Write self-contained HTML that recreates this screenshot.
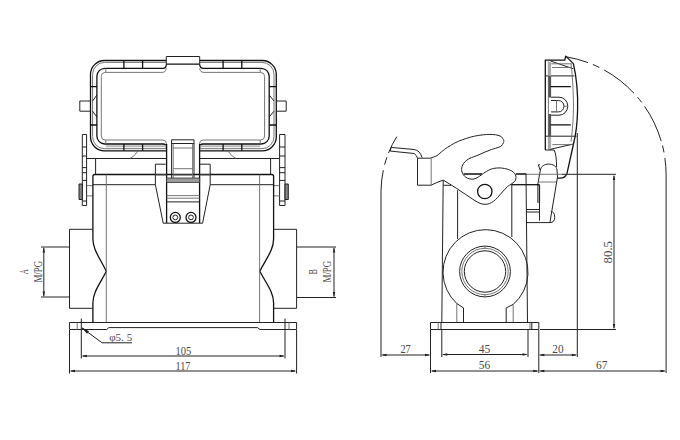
<!DOCTYPE html>
<html><head><meta charset="utf-8"><style>
html,body{margin:0;padding:0;background:#fff;}
body{width:680px;height:440px;overflow:hidden;}
svg{display:block;}
text{font-family:"Liberation Serif",serif;fill:#4a4a4a;}
.k{stroke:#111;stroke-width:1.3;}
.m{stroke:#222;stroke-width:1;}
.t{stroke:#666;stroke-width:0.9;}
.d{stroke:#222;stroke-width:1;}
</style></head><body>
<svg width="680" height="440" viewBox="0 0 680 440">
<g fill="none" stroke-linejoin="round" stroke-linecap="butt">
<!-- ============ LEFT (FRONT) VIEW ============ -->
<!-- lid rim L1 -->
<path class="k" d="M166.3,60.5 H104.5 A14,14 0 0 0 90.5,74.5 V136.8 A14,14 0 0 0 104.5,150.8 H166.5 M199.5,150.8 H262.3 A14,14 0 0 0 276.3,136.8 V74.5 A14,14 0 0 0 262.3,60.5 H199.7"/>
<!-- L2 -->
<path class="t" d="M166.3,62.4 H104.6 A12,12 0 0 0 92.6,74.4 V136.7 A12,12 0 0 0 104.6,148.7 H166.5 M199.5,148.7 H262 A12,12 0 0 0 274,136.7 V74.4 A12,12 0 0 0 262,62.4 H199.7"/>
<!-- L3 -->
<path class="k" stroke-width="2" d="M163,68.3 H104.9 A8,8 0 0 0 96.9,76.3 V136 A8,8 0 0 0 104.9,144 H163 Q166.5,144 166.5,148 M199.5,148 Q199.5,144 203,144 H261.2 A8,8 0 0 0 269.2,136 V76.3 A8,8 0 0 0 261.2,68.3 H203.5 Q199.7,68.3 199.7,64.2 M166.3,64.2 Q166.3,68.3 163,68.3"/>
<!-- L4 -->
<path class="t" d="M162,72.4 H105.3 A4,4 0 0 0 101.3,76.4 V136 A4,4 0 0 0 105.3,140 H163 Q166.5,140 166.5,144 M199.5,144 Q199.5,140 203,140 H260.6 A4,4 0 0 0 264.6,136 V76.4 A4,4 0 0 0 260.6,72.4 H204 Q200,72.4 199.7,68.3 M166.3,68.3 Q166,72.4 162,72.4"/>
<path class="t" d="M105.8,68.3 V72.4 M260.2,68.3 V72.4 M105.8,140 V144 M260.2,140 V144"/>
<!-- rim shading bottom -->
<path stroke="#bbb" stroke-width="2" d="M106,146.3 H166 M200,146.3 H260"/>
<!-- top tab -->
<path class="m" d="M166.3,64.1 V56.5 H199.7 V64.1"/>
<path class="k" stroke-width="1.8" d="M166.3,64.1 H199.7"/>
<!-- rim ticks -->
<g class="k" stroke-width="2.2">
<path d="M123.9,60.5 V68.3 M142.6,60.5 V68.3 M223.1,60.5 V68.3 M241.8,60.5 V68.3"/>
<path d="M123.9,144 V150.8 M142.6,144 V150.8 M223.1,144 V150.8 M241.8,144 V150.8"/>
<path d="M90.5,86.6 H96.9 M90.5,125 H96.9 M269.2,86.6 H276.3 M269.2,125 H276.3"/>
</g>
<!-- pins -->
<path class="m" d="M90.5,101 H79.8 V111.2 H90.5 M96.9,95 L92.6,101 M92.6,111.2 L96.9,117"/>
<path class="m" d="M276.3,101 H286.2 V111.2 H276.3 M269.2,95 L274,101 M274,111.2 L269.2,117"/>

<!-- below lid -->
<path class="m" d="M86.5,158.5 H166.5 M199.5,158.5 H279.5"/>
<path class="t" d="M130,158.5 Q135,156 138,151 M236,158.5 Q231,156 228,151"/>
<path class="m" d="M95.6,158.5 V174.5 M270.6,158.5 V174.5"/>

<!-- brackets -->
<path class="m" d="M82.3,205.5 V134.5 H86.6 V205.5 Z M279.6,205.5 V134.5 H285 V205.5 Z"/>
<path class="m" d="M82.3,147 H86.6 M82.3,156 H86.6 M82.3,167.6 H86.6 M82.3,172.7 H86.6 M82.3,180.4 H86.6 M82.3,201 H86.6"/>
<path class="m" d="M279.6,147 H285 M279.6,156 H285 M279.6,167.6 H285 M279.6,172.7 H285 M279.6,180.4 H285 M279.6,201 H285"/>
<rect class="m" x="79" y="184" width="3.3" height="15.5" fill="#888"/>
<rect class="m" x="285" y="184" width="3.3" height="15.5" fill="#888"/>
<path class="t" d="M86.6,185.6 H92.9 M86.6,195.9 H92.9 M273.6,185.6 H279.6 M273.6,195.9 H279.6"/>

<!-- body -->
<path class="k" d="M92.9,322.5 V303 C92.9,292 100,284 106.3,271.3 C100,258 92.9,250 92.9,239 V176.5 Q92.9,174.5 94.9,174.5 H271.6 Q273.6,174.5 273.6,176.5 V239 C273.6,250 266.5,258 259.8,271.3 C266.5,284 273.6,292 273.6,303 V322.5"/>
<path class="m" d="M92.9,184.7 H155.4 M210.2,184.7 H273.6"/>
<path class="t" stroke-width="1.2" d="M106.3,174.5 V322.5 M259.6,174.5 V322.5"/>
<!-- glands -->
<path class="m" d="M92.9,229.3 H69.5 V308.3 H92.9 M273.6,229.3 H296.6 V308.3 H273.6"/>
<!-- flange -->
<path class="m" d="M69.5,322.5 H296.6 V329.5 H260 L257.5,327.6 H108.8 L106.7,329.5 H69.5 Z"/>
<path class="t" d="M77.2,322.5 V329.5 M289,322.5 V329.5"/>

<!-- central hinge block -->
<path class="k" stroke-width="1.7" d="M166.6,144 V223 M199.6,144 V223"/>
<path class="m" d="M171.6,178 V139.8 H194 V178 M171.6,143.5 H194"/>
<path class="t" d="M173.2,143.5 V178 M192.6,143.5 V178 M173.2,148 H192.6 M173.2,168.7 H192.6 M173.2,175 H192.6"/>
<rect x="166.6" y="178" width="33" height="4.5" fill="#9a9a9a" stroke="#333" stroke-width="0.8"/>
<!-- latch -->
<path class="m" d="M165.6,164.2 H155.4 V184.7 L163.2,223.2 H202.6 L210.2,184.7 V164.2 H200"/>
<path class="t" d="M155.4,175 H166.6 M199.6,175 H210.2"/>
<path class="t" d="M166.6,195.6 H199.6 M166.6,198.2 H199.6"/>
<path class="m" d="M166.6,201.9 H199.6"/>
<circle class="k" cx="175.3" cy="217.4" r="5" stroke-width="1.5"/><circle class="m" cx="175.3" cy="217.4" r="2.4"/>
<circle class="k" cx="191" cy="217.4" r="5" stroke-width="1.5"/><circle class="m" cx="191" cy="217.4" r="2.4"/>

<!-- dimensions left view -->
<path class="d" d="M41,247 H69 M41,297 H69 M43.8,248 V296"/>
<path class="d" d="M297,247 H336 M297,297.5 H336 M334,248 V296.5"/>
<path class="d" d="M81.3,318.5 V358.5 M285,318.5 V358.5 M69.5,330 V373.5 M296.6,330 V373.5"/>
<path class="d" d="M83,356 H283.5 M71,371 H295"/>
<path class="d" d="M82,328 L102.1,342.8 H132"/>
<g fill="#222" stroke="none">
<path d="M43.8,247.0 L45.0,252.5 L42.6,252.5 Z M43.8,297.0 L42.6,291.5 L45.0,291.5 Z M334.0,247.0 L335.2,252.5 L332.8,252.5 Z M334.0,297.5 L332.8,292.0 L335.2,292.0 Z M81.3,356.0 L86.8,354.8 L86.8,357.2 Z M285.0,356.0 L279.5,357.2 L279.5,354.8 Z M69.5,371.0 L75.0,369.8 L75.0,372.2 Z M296.6,371.0 L291.1,372.2 L291.1,369.8 Z"/>
<path d="M81.5,327.3 L89,331.2 L87,333.8 Z"/>
</g>
<!-- ============ RIGHT (SIDE) VIEW ============ -->
<!-- lid -->
<path class="k" d="M545.3,150 V60.2 H564.8 L565.7,56.1 L573.4,63.6 C576,75 578,95 577.6,110 C577.2,125 575.8,135 573.6,143.5 L567,173.4 Q565,178.2 560,178.2 H557.4"/>
<path class="m" d="M545.3,150 H554.2 Q556.6,155 556.6,167"/>
<path class="m" d="M550.5,61 L573.2,68.7 M549.5,149.5 L573.5,144"/>
<path class="m" d="M545.3,75.9 H574.5 M545.3,136.2 H576.5"/>
<path class="t" d="M551.3,63.8 H571.7 M552,67.5 H572 M552.3,144.6 H573.3"/>
<path class="t" d="M571,63.6 C572.5,75 573.5,95 573.5,105 C573.5,118 572.5,130 571,141.5"/>
<path class="t" d="M548.4,61.5 V149.5"/>
<rect x="548.2" y="62" width="2.9" height="13.9" fill="#aaa" stroke="none"/>
<rect x="548.2" y="136.7" width="2.9" height="12" fill="#aaa" stroke="none"/>
<rect x="548.4" y="76" width="2.7" height="21.5" fill="#555" stroke="none"/>
<rect x="548.4" y="114" width="2.7" height="22.7" fill="#555" stroke="none"/>
<path class="k" stroke-width="2" d="M550.5,86.7 H570.8 M550.5,124.8 H570.8"/>
<path class="m" d="M551.1,97.2 H559 A8.8,9 0 0 1 559,115.2 H551.1 M551.1,100.5 H558.5 A5.5,5.7 0 0 1 558.5,111.9 H551.1"/>
<path class="t" d="M556.5,100.5 V111.9 M563.5,106.2 H568"/>
<!-- hinge knuckle -->
<path class="m" d="M540.3,170.5 C541,166 544.5,164.1 548.5,164.1 C553,164.1 556.5,166 557,170 L557.5,177"/>
<path class="m" d="M540.3,170.5 L537.7,185 M540.3,170.5 L538.4,164.8 L539.9,164.5"/>
<path class="t" d="M538.3,182 H556.7"/>
<path class="m" d="M557.5,177 L549.9,222.6 H526.7"/>
<path class="m" d="M550.8,211.6 Q554.7,211.6 554.7,217.3 Q554.7,222.6 549.9,222.6"/>
<rect x="537.5" y="185" width="2.2" height="17.4" fill="#999" stroke="#333" stroke-width="0.6"/>
<path class="m" d="M539.5,184.8 V220.7 M526.4,209.5 H539.5 M526.4,212 H539.5"/>
<path class="k" d="M511.5,184.7 H539.5"/>
<!-- latch lever -->
<path class="m" stroke-width="1.1" d="M431.2,157.7 C434,157 437,156 438.2,154.7 C443,150.5 446,148 450.5,145.5 C456,142 461,140 466.8,138.3 C472,136.5 477,135.5 483.2,134.8 C488,134.3 492,134.3 495.5,134.8 C499,135.3 502,136.5 502.6,138.3 C504,140 504,141.5 503.6,142.4 C503,144 502,145.5 500.6,146.5 C497,148 494,148.7 491.4,149.5 C487,151 483,153 479.1,154.7 C475,156.3 472,157.3 468.9,158.7 C466,160.5 464,162.5 462.7,164.9 C461.7,167 461.5,169 461.7,171 C462.5,174 464,176 465.8,177.2 C468,178.7 470.5,179.3 473,179.2 C476,178.9 478.5,176.8 481.1,175.1 C484.5,172.5 488,170.3 491.4,169 C494.5,168 498,167.8 501.6,168 C505.5,168.5 509,169.5 511.8,171 C514,172.5 515.5,174.3 515.9,176.1 C516.2,178 515.8,179.8 514.9,181.2 C512.5,183.5 510,184.8 507.7,186.4 C504,190 500.5,194 497.5,197.6 C495,200.5 492,202.5 489.3,203.7 C486.5,204.5 483.5,204.5 481.1,203.7 C479,203 477,202 475,200.7 C469,196.5 462.5,192.5 456.6,188.4 C452,185.5 447.5,182.5 443.3,180.2 C439,181.5 434.5,183.5 431.2,185.2"/>
<circle class="k" cx="484.8" cy="191.5" r="7.2"/>
<path class="m" d="M417.5,158.2 V185.2 H431.2 M417.5,158.2 H431.2"/>
<path class="t" d="M431.2,158.2 V185.2"/>
<path class="m" d="M391.1,147.4 L414.2,149.5 Q420,150.5 422,157.5 M390.3,151.1 L414.2,153.5 Q416.5,155 417.5,158.2 M391.1,147.4 L390.3,151.1"/>
<!-- body -->
<path class="k" d="M463.6,174 H482 M515.8,174 H526.4"/>
<path class="t" d="M526.4,174.3 H562"/>
<path class="m" d="M443.2,180.3 L441.8,322.5 M526,174 L527.5,322.5 M443.1,185.3 H451"/>
<path class="m" d="M457.6,190.2 V239 M511.8,184 V237"/>
<path class="m" d="M456.8,303.5 A42.5,42.5 0 1 1 513.2,304.4"/>
<path class="t" d="M456.8,303.5 V322.5 M513.2,304.4 V322.5"/>
<path class="m" d="M456.8,303.5 L463.5,307.9 V322.5 M513.2,304.4 L506.2,307.9 V322.5"/>
<circle class="m" cx="485" cy="271.5" r="25.4"/><circle class="t" cx="485" cy="271.5" r="23.2"/><circle class="m" cx="485" cy="271.5" r="20.7"/>
<path class="t" d="M485,246 V248.6 M485,294.4 V297"/>
<!-- flange -->
<path class="m" d="M430.5,322.5 H538.8 V329.5 H430.5 Z"/>
<path class="t" d="M438.2,322.5 V329.5 M530,322.5 V329.5"/>
<path class="m" d="M441,322.5 V329.5 M531.8,322.5 V329.5"/>

<!-- arcs -->
<path class="d" d="M566.4,56.8 A119.80,119.80 0 0 1 588.0,62.6 M592.9,64.5 A119.80,119.80 0 0 1 599.4,67.5 M604.2,70.0 A119.80,119.80 0 0 1 634.0,93.3 M637.5,97.2 A119.80,119.80 0 0 1 641.7,102.4 M644.6,106.4 A119.80,119.80 0 0 1 661.2,141.1 M662.5,145.6 A119.80,119.80 0 0 1 664.0,152.4 M664.9,158.1 A119.80,119.80 0 0 1 666.1,174.9 V373"/>
<path class="d" d="M396.8,136.6 A104.00,104.00 0 0 0 388.5,153.0 M386.9,157.3 A104.00,104.00 0 0 0 384.6,164.6 M383.3,170.2 A104.00,104.00 0 0 0 381.0,191.8 V357"/>
<!-- dims side view -->
<path class="d" d="M577.3,133 V357 M614,176 V328 M540,329.5 H616 M562,174.3 H616"/>
<path class="d" d="M430.5,330 V373 M441.8,330 V357 M528,330 V357 M538.8,330 V373"/>
<path class="d" d="M382.5,355 H429 M443.3,354.5 H526.5 M540.3,355 H575.8 M432,371 H537.3 M540.3,371 H664.5"/>
<g fill="#222" stroke="none">
<path d="M614.0,174.5 L615.2,180.0 L612.8,180.0 Z M614.0,329.5 L612.8,324.0 L615.2,324.0 Z M381.0,355.0 L386.5,353.8 L386.5,356.2 Z M430.5,355.0 L425.0,356.2 L425.0,353.8 Z M441.8,354.5 L447.3,353.3 L447.3,355.7 Z M528.0,354.5 L522.5,355.7 L522.5,353.3 Z M538.8,355.0 L544.3,353.8 L544.3,356.2 Z M577.3,355.0 L571.8,356.2 L571.8,353.8 Z M430.5,371.0 L436.0,369.8 L436.0,372.2 Z M538.8,371.0 L533.3,372.2 L533.3,369.8 Z M538.8,371.0 L544.3,369.8 L544.3,372.2 Z M666.1,371.0 L660.6,372.2 L660.6,369.8 Z"/>
</g>
</g>
<!-- texts -->
<g font-size="12" lengthAdjust="spacingAndGlyphs">
<text x="175.4" y="354.6" textLength="15.8" lengthAdjust="spacingAndGlyphs">105</text>
<text x="175.4" y="369.5" textLength="15" lengthAdjust="spacingAndGlyphs">117</text>
<text x="400.4" y="353.3" textLength="10.4" lengthAdjust="spacingAndGlyphs">27</text>
<text x="478.7" y="353.3" textLength="11.5" lengthAdjust="spacingAndGlyphs">45</text>
<text x="478.7" y="368.9" textLength="11.5" lengthAdjust="spacingAndGlyphs">56</text>
<text x="552.3" y="353.3" textLength="11.2" lengthAdjust="spacingAndGlyphs">20</text>
<text x="596.1" y="369.3" textLength="11.5" lengthAdjust="spacingAndGlyphs">67</text>
<text x="109.2" y="340.5" font-size="9.8" textLength="23" lengthAdjust="spacingAndGlyphs">φ5. 5</text>
<text transform="translate(612.2,263.4) rotate(-90)" textLength="22.4" lengthAdjust="spacingAndGlyphs">80.5</text>
<text transform="translate(28,274.3) rotate(-90)" textLength="5.1" lengthAdjust="spacingAndGlyphs">A</text>
<text transform="translate(41.7,282.6) rotate(-90)" font-size="11.5" textLength="21.7" lengthAdjust="spacingAndGlyphs">M/PG</text>
<text transform="translate(317.3,274.3) rotate(-90)" textLength="5.1" lengthAdjust="spacingAndGlyphs">B</text>
<text transform="translate(330.9,282.5) rotate(-90)" font-size="11.5" textLength="21.7" lengthAdjust="spacingAndGlyphs">M/PG</text>
</g>
</svg>
</body></html>
